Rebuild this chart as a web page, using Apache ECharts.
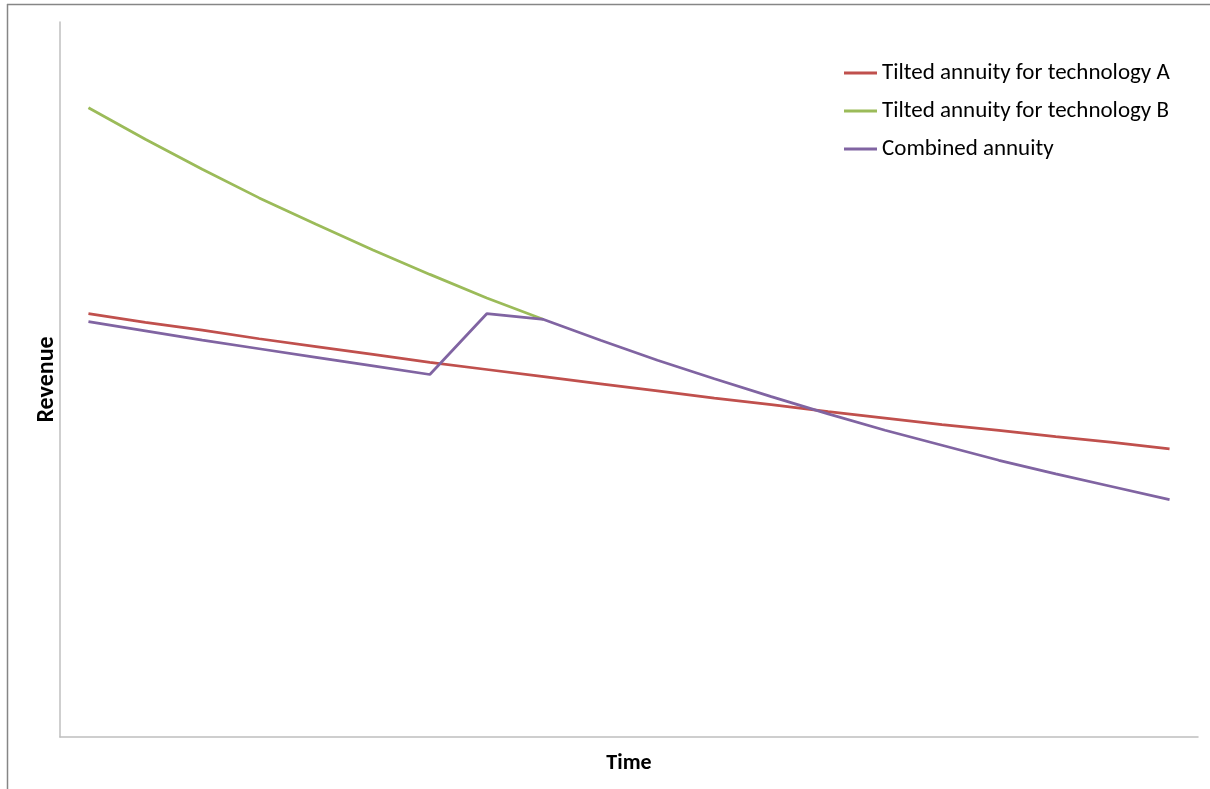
<!DOCTYPE html>
<html>
<head>
<meta charset="utf-8">
<script src="https://cdn.jsdelivr.net/npm/echarts@6/dist/echarts.min.js"></script>
<style>
  html, body { margin: 0; padding: 0; background: #ffffff; }
  #chart { width: 1210px; height: 789px; }
</style>
</head>
<body>
<div id="chart"></div>
<script>
// ---- Data (y values in arbitrary revenue units) ----
const periods = ['1','2','3','4','5','6','7','8','9','10','11','12','13','14','15','16','17','18','19','20'];
const seriesNames = ['Tilted annuity for technology A', 'Tilted annuity for technology B', 'Combined annuity'];
const techA = [59.2, 58.0, 56.9, 55.7, 54.6, 53.5, 52.4, 51.4, 50.4, 49.4, 48.4, 47.4, 46.5, 45.5, 44.6, 43.7, 42.9, 42.0, 41.2, 40.3];
const techB = [88.0, 83.6, 79.4, 75.4, 71.7, 68.1, 64.7, 61.4, 58.4, null, null, null, null, null, null, null, null, null, null, null];
const combined = [58.1, 56.8, 55.5, 54.3, 53.1, 51.9, 50.7, 59.2, 58.4, 55.5, 52.7, 50.1, 47.6, 45.2, 42.9, 40.8, 38.7, 36.8, 35.0, 33.2];
const colors = ['#C0504D', '#9BBB59', '#8064A2'];

const FONT = "Carlito, 'Liberation Sans', Arial, sans-serif";
const chart = echarts.init(document.getElementById('chart'), null, { renderer: 'canvas' });

const mkSeries = (name, data, color) => ({
  name: name,
  type: 'line',
  data: data,
  symbol: 'none',
  showSymbol: false,
  connectNulls: false,
  lineStyle: { color: color, width: 2.75 },
  itemStyle: { color: color },
  emphasis: { disabled: true },
  animation: false
});

chart.setOption({
  animation: false,
  backgroundColor: '#ffffff',
  grid: { left: 60, right: 12, top: 22, bottom: 52, containLabel: false },
  legend: {
    orient: 'vertical',
    left: 844,
    top: 61,
    icon: 'rect',
    itemWidth: 33,
    itemHeight: 3,
    itemGap: 14,
    padding: 0,
    textStyle: { fontFamily: FONT, fontSize: 23, color: '#000000', lineHeight: 24 },
    data: seriesNames
  },
  xAxis: {
    type: 'category',
    data: periods,
    boundaryGap: true,
    name: 'Time',
    nameLocation: 'middle',
    nameGap: 15,
    nameTextStyle: { fontFamily: FONT, fontSize: 22, fontWeight: 'bold', color: '#000000' },
    axisLine: { show: true, lineStyle: { color: '#BFBFBF', width: 1.5 } },
    axisTick: { show: false },
    axisLabel: { show: false },
    splitLine: { show: false }
  },
  yAxis: {
    type: 'value',
    min: 0,
    max: 100,
    name: 'Revenue',
    nameLocation: 'middle',
    nameRotate: 90,
    nameGap: 1.5,
    nameTextStyle: { fontFamily: FONT, fontSize: 24, fontWeight: 'bold', color: '#000000' },
    axisLine: { show: true, lineStyle: { color: '#BFBFBF', width: 1.5 } },
    axisTick: { show: false },
    axisLabel: { show: false },
    splitLine: { show: false }
  },
  graphic: [
    { type: 'line', shape: { x1: 7, y1: 4.5, x2: 1210, y2: 4.5 }, style: { stroke: '#868686', lineWidth: 1.5 }, silent: true },
    { type: 'line', shape: { x1: 7.5, y1: 4, x2: 7.5, y2: 789 }, style: { stroke: '#868686', lineWidth: 1.5 }, silent: true }
  ],
  series: [
    mkSeries(seriesNames[0], techA, colors[0]),
    mkSeries(seriesNames[1], techB, colors[1]),
    mkSeries(seriesNames[2], combined, colors[2])
  ]
});
</script>
</body>
</html>
